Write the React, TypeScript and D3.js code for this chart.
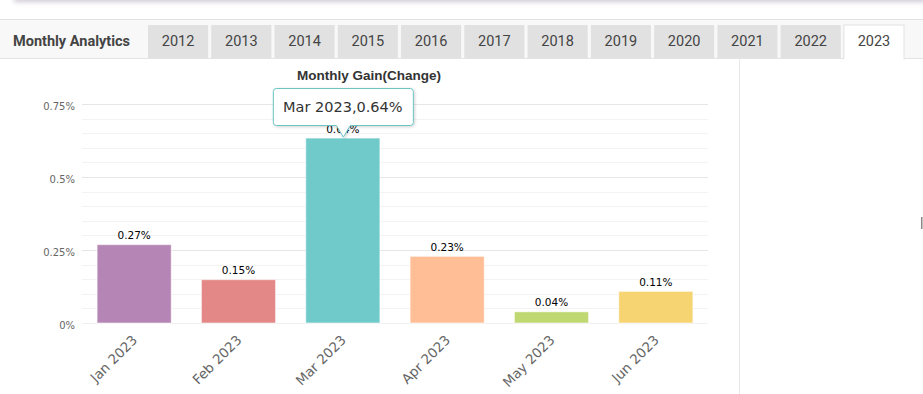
import React, { useEffect, useRef } from 'react';
import * as d3 from 'd3';

const months = ['Jan 2023', 'Feb 2023', 'Mar 2023', 'Apr 2023', 'May 2023', 'Jun 2023'];
const gains = [0.27, 0.15, 0.635, 0.23, 0.04, 0.11];
const barColors = ['#b586b5', '#e38886', '#70caca', '#ffbe96', '#c0d872', '#f6d472'];
const years = ['2012', '2013', '2014', '2015', '2016', '2017', '2018', '2019', '2020', '2021', '2022', '2023'];
const majorTicks = [0, 0.25, 0.5, 0.75];
const activeYear = '2023';
const hoverIndex = 2;

const W = 923;
const H = 394;

const App: React.FC = () => {
    const svgRef = useRef<SVGSVGElement>(null);

    useEffect(() => {
        if (!svgRef.current) return;
        const svg = d3.select(svgRef.current);
        svg.selectAll('*').remove();

        const defs = svg.append('defs');
        const blur = defs.append('filter').attr('id', 'topShadow').attr('x', '-10%').attr('y', '-50%').attr('width', '120%').attr('height', '200%');
        blur.append('feGaussianBlur').attr('stdDeviation', 2.5);
        const tipShadow = defs.append('filter').attr('id', 'tipShadow').attr('x', '-20%').attr('y', '-20%').attr('width', '140%').attr('height', '160%');
        tipShadow.append('feDropShadow').attr('dx', 1).attr('dy', 1).attr('stdDeviation', 1.5).attr('flood-color', '#000').attr('flood-opacity', 0.18);

        svg.append('rect').attr('width', W).attr('height', H).attr('fill', '#fff');

        // card shadow at the very top
        svg.append('rect')
            .attr('x', 14).attr('y', -20).attr('width', W + 20).attr('height', 22)
            .attr('fill', '#cfcad6')
            .attr('filter', 'url(#topShadow)');

        // tab strip
        svg.append('rect').attr('x', 0).attr('y', 19).attr('width', W).attr('height', 39).attr('fill', '#f8f8f8');
        svg.append('line').attr('x1', 0).attr('x2', W).attr('y1', 19.5).attr('y2', 19.5).attr('stroke', '#e2e2e2');

        const tabX = d3.scaleBand<string>().domain(years).range([148, 904]).paddingInner(0.05).paddingOuter(0);
        svg.append('line').attr('x1', 0).attr('x2', W).attr('y1', 58.5).attr('y2', 58.5).attr('stroke', '#e4e4e4');

        const tabs = svg.append('g').selectAll('g').data(years).enter().append('g');
        tabs.append('rect')
            .attr('x', d => tabX(d)!)
            .attr('y', 25)
            .attr('width', tabX.bandwidth())
            .attr('height', d => (d === activeYear ? 34 : 33))
            .attr('fill', d => (d === activeYear ? '#fff' : '#e1e1e1'))
            .attr('stroke', d => (d === activeYear ? '#e2e2e2' : 'none'));
        tabs.append('text')
            .attr('x', d => tabX(d)! + tabX.bandwidth() / 2)
            .attr('y', 46)
            .attr('text-anchor', 'middle')
            .style('font-family', 'Roboto')
            .style('font-size', '14.5px')
            .style('fill', '#444')
            .text(d => d);
        // hide the bottom border below the active tab
        svg.append('rect')
            .attr('x', tabX(activeYear)! + 0.5).attr('y', 57).attr('width', tabX.bandwidth() - 1).attr('height', 3)
            .attr('fill', '#fff');

        svg.append('text')
            .attr('x', 13).attr('y', 46)
            .style('font-family', 'Roboto')
            .style('font-size', '14.5px')
            .style('font-weight', 'bold')
            .style('fill', '#444')
            .text('Monthly Analytics');

        // right panel divider
        svg.append('line').attr('x1', 739.5).attr('x2', 739.5).attr('y1', 59).attr('y2', H).attr('stroke', '#e8e8e8');
        svg.append('rect').attr('x', 921).attr('y', 217).attr('width', 1.5).attr('height', 12).attr('fill', '#888');

        // chart
        const x = d3.scaleBand<string>().domain(months).range([82, 708]).paddingInner(0.28).paddingOuter(0.14);
        const y = d3.scaleLinear().domain([0, 0.75]).range([323, 104]);
        const minorTicks = d3.range(0, 0.7501, 0.05).filter(v => !majorTicks.some(m => Math.abs(m - v) < 1e-6));

        const grid = svg.append('g');
        grid.selectAll('line.minor').data(minorTicks).enter().append('line')
            .attr('class', 'minor')
            .attr('x1', 82).attr('x2', 708)
            .attr('y1', d => Math.round(y(d)) + 0.5).attr('y2', d => Math.round(y(d)) + 0.5)
            .attr('stroke', '#f3f3f3');
        grid.selectAll('line.major').data(majorTicks).enter().append('line')
            .attr('class', 'major')
            .attr('x1', 82).attr('x2', 708)
            .attr('y1', d => Math.round(y(d)) + 0.5).attr('y2', d => Math.round(y(d)) + 0.5)
            .attr('stroke', d => (d === 0 ? '#f0f0f0' : '#e6e6e6'));

        svg.append('g').selectAll('text').data(majorTicks).enter().append('text')
            .attr('x', 75)
            .attr('y', d => y(d) + 6)
            .attr('text-anchor', 'end')
            .style('font-family', 'DejaVu Sans')
            .style('font-size', '10px')
            .style('fill', '#666')
            .text(d => `${d3.format('~g')(d)}%`);

        svg.append('text')
            .attr('x', 369).attr('y', 80)
            .attr('text-anchor', 'middle')
            .style('font-family', 'Liberation Sans, Arial')
            .style('font-size', '13.5px')
            .style('font-weight', 'bold')
            .style('fill', '#333')
            .text('Monthly Gain(Change)');

        const data = months.map((m, i) => ({ m, v: gains[i], c: barColors[i] }));

        svg.append('g').selectAll('rect').data(data).enter().append('rect')
            .attr('x', d => x(d.m)! + 0.5)
            .attr('y', d => y(d.v) + 0.5)
            .attr('width', x.bandwidth() - 1)
            .attr('height', d => y(0) - y(d.v) - 0.5)
            .attr('fill', d => d.c)
            .attr('stroke', 'rgba(255,255,255,0.55)')
            .attr('stroke-width', 1);

        svg.append('g').selectAll('text').data(data).enter().append('text')
            .attr('x', d => x(d.m)! + x.bandwidth() / 2)
            .attr('y', d => y(d.v) - 5)
            .attr('text-anchor', 'middle')
            .style('font-family', 'DejaVu Sans')
            .style('font-size', '10.5px')
            .style('fill', '#000')
            .text(d => `${d3.format('.2f')(d.v)}%`);

        svg.append('g').selectAll('text').data(months).enter().append('text')
            .attr('transform', d => `translate(${x(d)! + x.bandwidth() / 2 + 4},${341}) rotate(-45)`)
            .attr('text-anchor', 'end')
            .style('font-family', 'DejaVu Sans')
            .style('font-size', '13.5px')
            .style('fill', '#666')
            .text(d => d);

        // tooltip on the hovered bar
        const hv = data[hoverIndex];
        const tipText = `${hv.m},${d3.format('.2f')(hv.v)}%`;
        const ax = x(hv.m)! + x.bandwidth() / 2;
        const ay = y(hv.v) - 1;
        const bw = 140, bh = 37, r = 3;
        const bx = ax - bw / 2, by = 88;
        const bottom = by + bh;
        const path = d3.path();
        path.moveTo(bx + r, by);
        path.lineTo(bx + bw - r, by);
        path.arcTo(bx + bw, by, bx + bw, by + r, r);
        path.lineTo(bx + bw, bottom - r);
        path.arcTo(bx + bw, bottom, bx + bw - r, bottom, r);
        path.lineTo(ax + 7, bottom);
        path.lineTo(ax, ay);
        path.lineTo(ax - 7, bottom);
        path.lineTo(bx + r, bottom);
        path.arcTo(bx, bottom, bx, bottom - r, r);
        path.lineTo(bx, by + r);
        path.arcTo(bx, by, bx + r, by, r);
        path.closePath();
        svg.append('path')
            .attr('d', path.toString())
            .attr('transform', 'translate(0.5,0.5)')
            .attr('fill', 'rgba(255,255,255,0.97)')
            .attr('stroke', '#6cc3c3')
            .attr('stroke-width', 1)
            .attr('filter', 'url(#tipShadow)');
        svg.append('text')
            .attr('x', ax).attr('y', by + 24)
            .attr('text-anchor', 'middle')
            .style('font-family', 'DejaVu Sans')
            .style('font-size', '14.5px')
            .style('fill', '#333')
            .text(tipText);
    }, []);

    return (
        <div style={{ position: 'absolute', left: 0, top: 0, width: W, height: H, overflow: 'hidden' }}>
            <svg ref={svgRef} width={W} height={H} style={{ display: 'block' }} />
        </div>
    );
};

export default App;
